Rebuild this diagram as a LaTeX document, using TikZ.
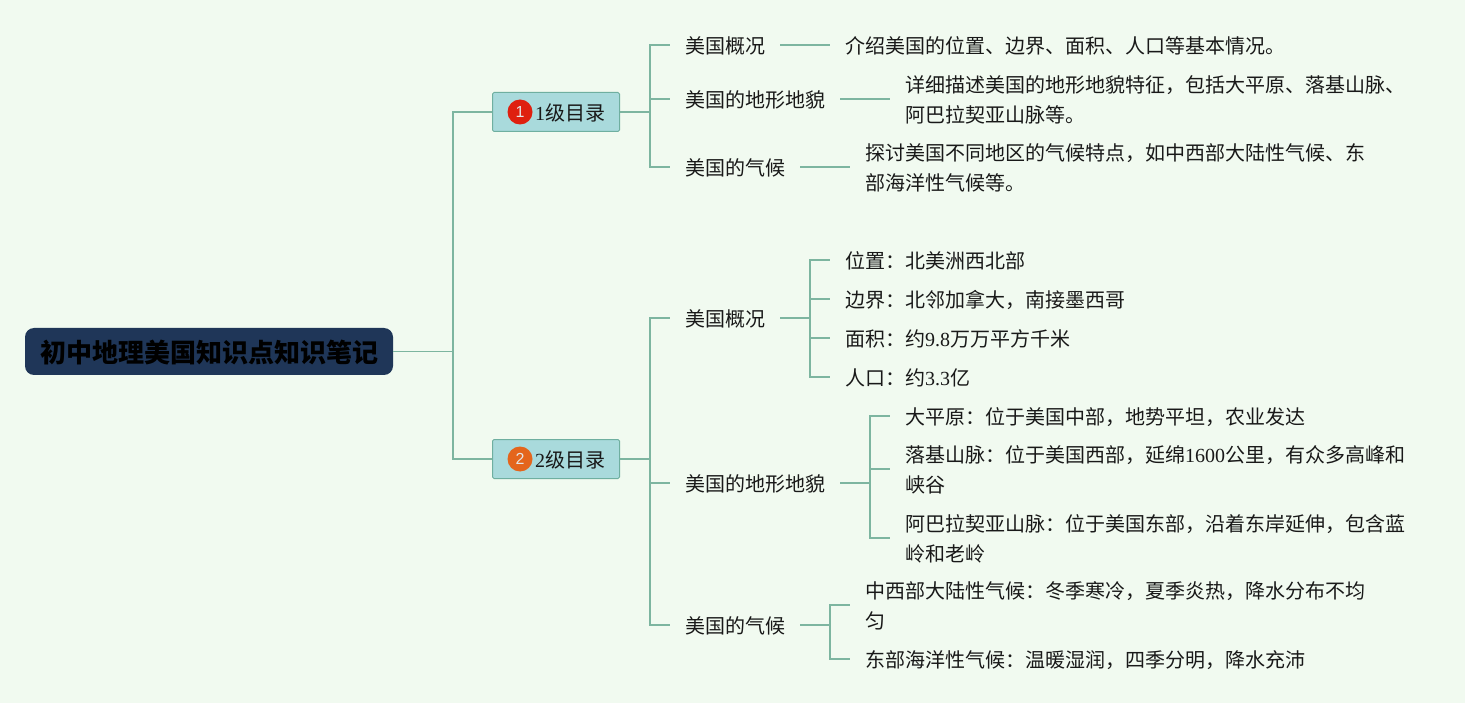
\documentclass[tikz,border=0pt]{standalone}
\usepackage{fontspec}
\setmainfont{Noto Sans CJK SC}
\newfontfamily\lat{Liberation Serif}
\newfontfamily\iconfont{Liberation Sans}
\definecolor{bgc}{HTML}{F1FAF0}
\definecolor{linec}{HTML}{7DB5A0}
\definecolor{rootc}{HTML}{1F3658}
\definecolor{boxc}{HTML}{A9DADC}
\definecolor{boxb}{HTML}{6FAFA0}
\definecolor{bred}{HTML}{DF200F}
\definecolor{borange}{HTML}{E4651C}
\tikzset{
  txt/.style={inner xsep=15pt,inner ysep=0pt,anchor=west,align=left,yshift=-1pt,text=black!90,font=\fontsize{20}{30}\selectfont},
  rootbox/.style={fill=rootc,rounded corners=9pt,minimum width=368pt,minimum height=47pt,inner sep=0pt,text=black,font=\fontsize{26}{30}\selectfont\bfseries},
  catbox/.style={fill=boxc,draw=boxb,line width=1pt,rounded corners=1.5pt,minimum width=127pt,minimum height=39pt,inner sep=0pt},
  cattext/.style={inner sep=0pt,anchor=west,text=black!90,font=\fontsize{20}{30}\selectfont},
  badge/.style={circle,minimum size=25pt,inner sep=0pt,text=white!90!black,font=\iconfont\fontsize{16}{16}\selectfont},
  conn/.style={draw=linec,line width=1.15pt,line join=miter},
}
\begin{document}
\begin{tikzpicture}[x=1pt,y=-1pt]
\fill[bgc] (0,0) rectangle (1465,703);
\useasboundingbox (0,0) rectangle (1465,703);
% root
\node[rootbox] (root) at (209,351.5) {\raisebox{-1pt}[\height][\depth]{初中地理美国知识点知识笔记}};
% categories
\node[catbox] (c1) at (556,112) {};
\node[catbox] (c2) at (556,459) {};
\node[badge,fill=bred] (b1) at (520,112) {1};
\node[badge,fill=borange] (b2) at (520,459) {2};
\node[cattext] (t1) at (535,113) {{\lat 1}级目录};
\node[cattext] (t2) at (535,460) {{\lat 2}级目录};
% section 1
\node[txt] (a1) at (670,45) {美国概况};
\node[txt] (a2) at (670,99) {美国的地形地貌};
\node[txt] (a3) at (670,167) {美国的气候};
\node[txt] (a1x) at (830,45) {介绍美国的位置、边界、面积、人口等基本情况。};
\node[txt] (a2x) at (890,99) {详细描述美国的地形地貌特征，包括大平原、落基山脉、\\阿巴拉契亚山脉等。};
\node[txt] (a3x) at (850,167) {探讨美国不同地区的气候特点，如中西部大陆性气候、东\\部海洋性气候等。};
% section 2
\node[txt] (d1) at (670,318) {美国概况};
\node[txt] (d2) at (670,483) {美国的地形地貌};
\node[txt] (d3) at (670,625) {美国的气候};
\node[txt] (e1) at (830,260) {位置：北美洲西北部};
\node[txt] (e2) at (830,299) {边界：北邻加拿大，南接墨西哥};
\node[txt] (e3) at (830,338) {面积：约{\lat 9.8}万万平方千米};
\node[txt] (e4) at (830,377) {人口：约{\lat 3.3}亿};
\node[txt] (f1) at (890,416) {大平原：位于美国中部，地势平坦，农业发达};
\node[txt] (f2) at (890,469) {落基山脉：位于美国西部，延绵{\lat 1600}公里，有众多高峰和\\峡谷};
\node[txt] (f3) at (890,538) {阿巴拉契亚山脉：位于美国东部，沿着东岸延伸，包含蓝\\岭和老岭};
\node[txt] (g1) at (850,605) {中西部大陆性气候：冬季寒冷，夏季炎热，降水分布不均\\匀};
\node[txt] (g2) at (850,659) {东部海洋性气候：温暖湿润，四季分明，降水充沛};
% connectors
\draw[conn] (root.east) -- (453,351.5) coordinate (r1);
\draw[conn] (r1) |- (c1.west);
\draw[conn] (r1) |- (c2.west);
\draw[conn] (c1.east) -- (650,112) coordinate (k1);
\draw[conn] (k1) |- ([yshift=1pt]a1.west);
\draw[conn] (k1) |- ([yshift=1pt]a2.west);
\draw[conn] (k1) |- ([yshift=1pt]a3.west);
\draw[conn] ([yshift=1pt]a1.east) -- ([yshift=1pt]a1x.west);
\draw[conn] ([yshift=1pt]a2.east) -- ([yshift=1pt]a2x.west);
\draw[conn] ([yshift=1pt]a3.east) -- ([yshift=1pt]a3x.west);
\draw[conn] (c2.east) -- (650,459) coordinate (k2);
\draw[conn] (k2) |- ([yshift=1pt]d1.west);
\draw[conn] (k2) |- ([yshift=1pt]d2.west);
\draw[conn] (k2) |- ([yshift=1pt]d3.west);
\draw[conn] ([yshift=1pt]d1.east) -- (810,318) coordinate (k3);
\draw[conn] (k3) |- ([yshift=1pt]e1.west);
\draw[conn] (k3) |- ([yshift=1pt]e2.west);
\draw[conn] (k3) |- ([yshift=1pt]e3.west);
\draw[conn] (k3) |- ([yshift=1pt]e4.west);
\draw[conn] ([yshift=1pt]d2.east) -- (870,483) coordinate (k4);
\draw[conn] (k4) |- ([yshift=1pt]f1.west);
\draw[conn] (k4) |- ([yshift=1pt]f2.west);
\draw[conn] (k4) |- ([yshift=1pt]f3.west);
\draw[conn] ([yshift=1pt]d3.east) -- (830,625) coordinate (k5);
\draw[conn] (k5) |- ([yshift=1pt]g1.west);
\draw[conn] (k5) |- ([yshift=1pt]g2.west);
\end{tikzpicture}
\end{document}
